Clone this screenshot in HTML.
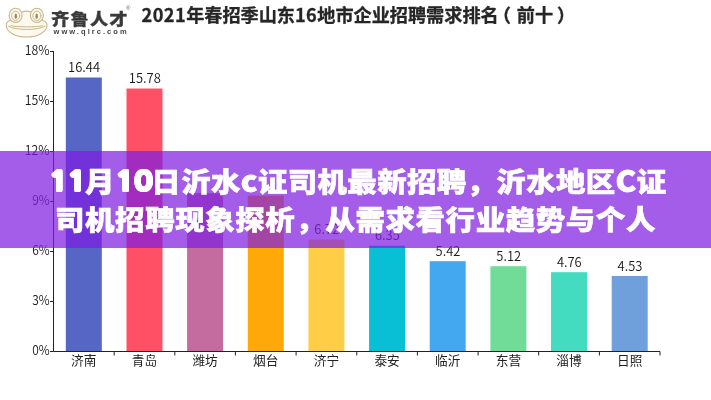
<!DOCTYPE html>
<html lang="zh-CN"><head><meta charset="utf-8"><title>11月10日沂水c证司机最新招聘</title>
<style>
html,body{margin:0;padding:0;background:#fff;}
body{width:711px;height:400px;position:relative;overflow:hidden;font-family:"Liberation Sans","Noto Sans CJK SC",sans-serif;}
.chart{position:absolute;left:0;top:0;}
.chart text{font-family:"Liberation Sans","Noto Sans CJK SC",sans-serif;fill:#222;}
.chart .val,.chart .yl{font-size:13.4px;font-family:"Noto Sans CJK SC","Liberation Sans",sans-serif;font-weight:350;fill:#1a1a1a;}
.cat{font-size:12.7px;fill:#333;}
.title{position:absolute;left:141.5px;top:0.5px;font-size:18.15px;line-height:26px;font-weight:700;color:#262626;white-space:nowrap;font-family:"Noto Sans CJK SC","Liberation Sans",sans-serif;}
.title{-webkit-text-stroke:0.3px #262626;}
.title .n{letter-spacing:0.45px;}
.title .pl{position:relative;left:-6px;}
.title .pr{position:relative;left:4px;}
.logo{position:absolute;left:0;top:0;}
.brand{position:absolute;left:51.3px;top:6px;font-size:16.2px;line-height:24px;font-weight:900;color:#3a3a3a;white-space:nowrap;font-family:"Noto Sans CJK SC","Liberation Sans",sans-serif;letter-spacing:1.1px;transform:scaleX(1.125);transform-origin:0 50%;-webkit-text-stroke:0.3px #3a3a3a;}
.url{position:absolute;left:53.5px;top:27px;font-size:7.5px;line-height:10px;font-weight:700;color:#444;letter-spacing:2.05px;white-space:nowrap;}
.reg{position:absolute;left:126px;top:4px;font-size:6px;line-height:8px;color:#666;}
.band{position:absolute;left:0;top:150.6px;width:711px;height:97.8px;background:rgba(128,30,224,0.72);}
.head{position:absolute;left:0px;top:151px;width:711px;height:97px;margin:0;box-sizing:border-box;padding-top:9.5px;text-align:center;color:#fff;font-weight:900;font-size:27.5px;line-height:38px;letter-spacing:0.58px;font-family:"Noto Sans CJK SC","Liberation Sans",sans-serif;white-space:nowrap;-webkit-text-stroke:0.6px #fff;}
.head .d{display:inline-block;height:38px;line-height:38px;vertical-align:top;width:34.2px;text-align:left;letter-spacing:0;}
.head .di{display:inline-block;font-size:27px;font-family:"NanumGothic","Liberation Sans",sans-serif;font-weight:800;transform:scaleX(1.12);transform-origin:0 50%;letter-spacing:-1.1px;-webkit-text-stroke:0 #fff;text-shadow:0.9px 0 #fff,-0.9px 0 #fff,0 0.9px #fff,0 -0.9px #fff,0.65px 0.65px #fff,-0.65px 0.65px #fff,0.65px -0.65px #fff,-0.65px -0.65px #fff;}
.head .l1{display:block;height:38px;letter-spacing:0.35px;position:relative;left:2.4px;top:-0.8px;transform:scaleX(1.07);}
.head .l2{display:block;height:38px;transform:scaleX(1.07);}
.head .l{font-size:29px;letter-spacing:0.5px;-webkit-text-stroke:0.8px #fff;}
</style></head>
<body>
<svg class="chart" width="711" height="400" viewBox="0 0 711 400">
<rect x="65.8" y="77.5" width="36" height="273.5" fill="#5566C4"/>
<text class="val" x="68.1" y="72.2" textLength="32.0" lengthAdjust="spacingAndGlyphs">16.44</text>
<text class="cat" x="83.8" y="364.5" text-anchor="middle">济南</text>
<rect x="126.5" y="88.5" width="36" height="262.5" fill="#FF5066"/>
<text class="val" x="128.8" y="83.2" textLength="32.0" lengthAdjust="spacingAndGlyphs">15.78</text>
<text class="cat" x="144.5" y="364.5" text-anchor="middle">青岛</text>
<rect x="187.1" y="193.2" width="36" height="157.8" fill="#C46CA0"/>
<text class="cat" x="205.1" y="364.5" text-anchor="middle">潍坊</text>
<rect x="247.8" y="195.7" width="36" height="155.3" fill="#FFA908"/>
<text class="cat" x="265.8" y="364.5" text-anchor="middle">烟台</text>
<rect x="308.4" y="239.5" width="36" height="111.5" fill="#FFCD46"/>
<text class="val" x="314.3" y="234.2" textLength="24.8" lengthAdjust="spacingAndGlyphs">6.72</text>
<text class="cat" x="326.4" y="364.5" text-anchor="middle">济宁</text>
<rect x="369.1" y="245.7" width="36" height="105.3" fill="#09BFD6"/>
<text class="val" x="375.0" y="240.4" textLength="24.8" lengthAdjust="spacingAndGlyphs">6.35</text>
<text class="cat" x="387.1" y="364.5" text-anchor="middle">泰安</text>
<rect x="429.7" y="261.2" width="36" height="89.8" fill="#43A8F0"/>
<text class="val" x="435.6" y="255.9" textLength="24.8" lengthAdjust="spacingAndGlyphs">5.42</text>
<text class="cat" x="447.7" y="364.5" text-anchor="middle">临沂</text>
<rect x="490.4" y="266.2" width="36" height="84.8" fill="#70DC98"/>
<text class="val" x="496.3" y="260.9" textLength="24.8" lengthAdjust="spacingAndGlyphs">5.12</text>
<text class="cat" x="508.4" y="364.5" text-anchor="middle">东营</text>
<rect x="551.0" y="272.2" width="36" height="78.8" fill="#44DCC0"/>
<text class="val" x="556.9" y="266.9" textLength="24.8" lengthAdjust="spacingAndGlyphs">4.76</text>
<text class="cat" x="569.0" y="364.5" text-anchor="middle">淄博</text>
<rect x="611.7" y="276.0" width="36" height="75.0" fill="#70A0DC"/>
<text class="val" x="617.6" y="270.7" textLength="24.8" lengthAdjust="spacingAndGlyphs">4.53</text>
<text class="cat" x="629.7" y="364.5" text-anchor="middle">日照</text>
<path d="M53.5 51.0V351.5H660.0" fill="none" stroke="#222" stroke-width="1"/>
<path d="M50.0 351.5H53.5" stroke="#222" stroke-width="1"/>
<text class="yl" x="32.2" y="354.9" textLength="17.4" lengthAdjust="spacingAndGlyphs">0%</text>
<path d="M50.0 301.5H53.5" stroke="#222" stroke-width="1"/>
<text class="yl" x="32.2" y="304.9" textLength="17.4" lengthAdjust="spacingAndGlyphs">3%</text>
<path d="M50.0 251.5H53.5" stroke="#222" stroke-width="1"/>
<text class="yl" x="32.2" y="254.9" textLength="17.4" lengthAdjust="spacingAndGlyphs">6%</text>
<path d="M50.0 201.5H53.5" stroke="#222" stroke-width="1"/>
<text class="yl" x="32.2" y="204.9" textLength="17.4" lengthAdjust="spacingAndGlyphs">9%</text>
<path d="M50.0 151.5H53.5" stroke="#222" stroke-width="1"/>
<text class="yl" x="24.7" y="154.9" textLength="24.9" lengthAdjust="spacingAndGlyphs">12%</text>
<path d="M50.0 101.49999999999997H53.5" stroke="#222" stroke-width="1"/>
<text class="yl" x="24.7" y="104.9" textLength="24.9" lengthAdjust="spacingAndGlyphs">15%</text>
<path d="M50.0 51.5H53.5" stroke="#222" stroke-width="1"/>
<text class="yl" x="24.7" y="54.9" textLength="24.9" lengthAdjust="spacingAndGlyphs">18%</text>
<path d="M114.2 351.5V355.5" stroke="#222" stroke-width="1"/>
<path d="M174.8 351.5V355.5" stroke="#222" stroke-width="1"/>
<path d="M235.4 351.5V355.5" stroke="#222" stroke-width="1"/>
<path d="M296.1 351.5V355.5" stroke="#222" stroke-width="1"/>
<path d="M356.8 351.5V355.5" stroke="#222" stroke-width="1"/>
<path d="M417.4 351.5V355.5" stroke="#222" stroke-width="1"/>
<path d="M478.1 351.5V355.5" stroke="#222" stroke-width="1"/>
<path d="M538.7 351.5V355.5" stroke="#222" stroke-width="1"/>
<path d="M599.4 351.5V355.5" stroke="#222" stroke-width="1"/>
<path d="M660.0 351.5V355.5" stroke="#222" stroke-width="1"/>
</svg>
<svg class="logo" width="140" height="50" viewBox="0 0 140 50">
<g fill="#fdf9ef" stroke="#c9b78c" stroke-width="1.1" stroke-linejoin="round" stroke-linecap="round">
<path d="M10 20.500C7.500 21.500 6 23.200 6.200 25.500C6.600 32 15 37 26.500 37S46.500 32 47 25.500C47.200 23.200 45.500 21.500 43 20.500L31.500 12.400C28.500 10.900 24.500 10.900 21.500 12.400Z"/>
<ellipse cx="15.600" cy="15.300" rx="6.500" ry="7.100"/>
<ellipse cx="36.900" cy="15.300" rx="6.500" ry="7.100"/>
</g>
<g fill="none" stroke="#c9b78c" stroke-width="1" stroke-linecap="round">
<ellipse cx="15.600" cy="15.800" rx="4.100" ry="4.600"/>
<ellipse cx="36.900" cy="15.800" rx="4.100" ry="4.600"/>
<path d="M8.500 26.200C15 30.600 38 30.600 45 26.200"/>
<path d="M11 25.800C18 27.200 35 27.200 42.500 25.800"/>
</g>
<ellipse cx="15.800" cy="16.300" rx="1.300" ry="2.700" fill="#a08a5c"/>
<ellipse cx="36.700" cy="16.300" rx="1.300" ry="2.700" fill="#a08a5c"/>
</svg>
<div class="brand">齐鲁人才</div>
<div class="reg">®</div>
<div class="url">www.qlrc.com</div>
<div class="title"><span class="n">2021</span>年春招季山东<span class="n">16</span>地市企业招聘需求排名<span class="pl">（</span>前十<span class="pr">）</span></div>
<div class="band"></div>
<h1 class="head"><span class="l1"><span class="d"><span class="di">11</span></span>月<span class="d"><span class="di">10</span></span>日沂水<span class="l">c</span>证司机最新招聘，沂水地区<span class="l">C</span>证</span><span class="l2">司机招聘现象探析，从需求看行业趋势与个人</span></h1>
</body></html>
